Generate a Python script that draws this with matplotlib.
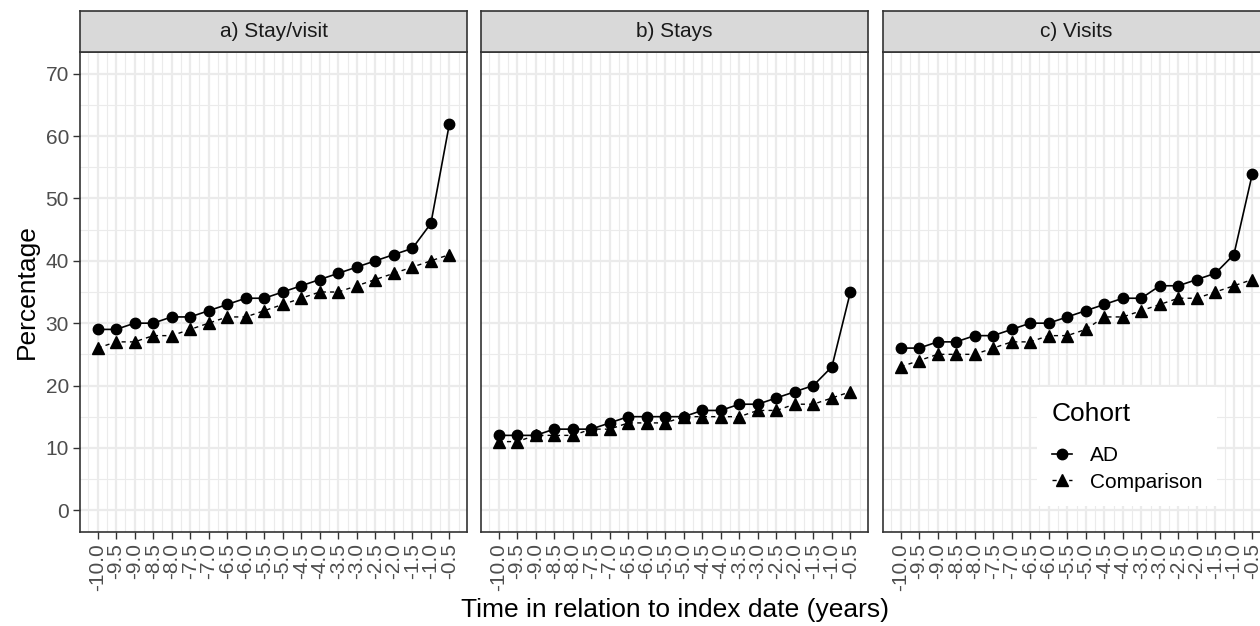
import numpy as np
import matplotlib
matplotlib.use('Agg')
import matplotlib.pyplot as plt
from matplotlib.ticker import MultipleLocator

plt.rcParams['font.family'] = ['Liberation Sans', 'DejaVu Sans']

# time relative to index date (years)
years = [-10.0, -9.5, -9.0, -8.5, -8.0, -7.5, -7.0, -6.5, -6.0, -5.5,
         -5.0, -4.5, -4.0, -3.5, -3.0, -2.5, -2.0, -1.5, -1.0, -0.5]

stay_visit_ad = [29, 29, 30, 30, 31, 31, 32, 33, 34, 34, 35, 36, 37, 38, 39, 40, 41, 42, 46, 62]
stay_visit_comp = [26, 27, 27, 28, 28, 29, 30, 31, 31, 32, 33, 34, 35, 35, 36, 37, 38, 39, 40, 41]
stays_ad = [12, 12, 12, 13, 13, 13, 14, 15, 15, 15, 15, 16, 16, 17, 17, 18, 19, 20, 23, 35]
stays_comp = [11, 11, 12, 12, 12, 13, 13, 14, 14, 14, 15, 15, 15, 15, 16, 16, 17, 17, 18, 19]
visits_ad = [26, 26, 27, 27, 28, 28, 29, 30, 30, 31, 32, 33, 34, 34, 36, 36, 37, 38, 41, 54]
visits_comp = [23, 24, 25, 25, 25, 26, 27, 27, 28, 28, 29, 31, 31, 32, 33, 34, 34, 35, 36, 37]

panel_titles = ['a) Stay/visit', 'b) Stays', 'c) Visits']
ad_series = [stay_visit_ad, stays_ad, visits_ad]
comp_series = [stay_visit_comp, stays_comp, visits_comp]

W, H = 1260, 626
fig = plt.figure(figsize=(W / 100, H / 100), dpi=100)

lefts = [80, 481, 883]
pw = 387
top, bottom = 52, 532

tick_col = '#4D4D4D'
border_col = '#333333'
grid_col = '#EBEBEB'

handles = None
for i in range(3):
    l = lefts[i]
    ax = fig.add_axes([l / W, 1 - bottom / H, pw / W, (bottom - top) / H])
    ax.set_xlim(-10.475, -0.025)
    ax.set_ylim(-3.5, 73.5)
    ax.set_xticks(years)
    ax.set_xticklabels(['%.1f' % y for y in years], rotation=90)
    ax.xaxis.set_minor_locator(MultipleLocator(0.25))
    ax.set_yticks(range(0, 71, 10))
    ax.yaxis.set_minor_locator(MultipleLocator(5))
    ax.grid(which='major', color=grid_col, lw=1.6, zorder=0)
    ax.grid(which='minor', color=grid_col, lw=0.8, zorder=0)
    ax.set_axisbelow(True)
    ax.tick_params(which='major', length=5, width=1.0, color=border_col,
                   labelsize=15, labelcolor=tick_col, pad=3)
    ax.tick_params(which='minor', length=0)
    if i > 0:
        ax.tick_params(axis='y', left=False, labelleft=False)
    for sp in ax.spines.values():
        sp.set_color(border_col)
        sp.set_linewidth(1.2)

    l1, = ax.plot(years, ad_series[i], color='black', lw=1.2, marker='o',
                  markersize=7.5, zorder=3)
    l2, = ax.plot(years, comp_series[i], color='black', lw=1.0,
                  linestyle=(0, (3, 3)), marker='^', markersize=8.5, zorder=3)
    if i == 2:
        handles = [l1, l2]

    # facet strip
    st = fig.add_axes([l / W, 1 - top / H, pw / W, 41 / H])
    st.set_facecolor('#D9D9D9')
    st.set_xticks([])
    st.set_yticks([])
    for sp in st.spines.values():
        sp.set_color(border_col)
        sp.set_linewidth(1.2)
    st.text(0.5, 0.5, panel_titles[i], ha='center', va='center',
            fontsize=15, color='#1A1A1A', transform=st.transAxes)

fig.text(27 / W, 1 - 292 / H, 'Percentage', rotation=90, ha='center',
         va='center', fontsize=19)
fig.text(675 / W, 1 - 610 / H, 'Time in relation to index date (years)',
         ha='center', va='center', fontsize=19)

leg = fig.legend(handles, ['AD', 'Comparison'], title='Cohort',
                 loc='upper left', bbox_to_anchor=(1037 / W, 1 - 387 / H),
                 borderaxespad=0, frameon=True, facecolor='white',
                 edgecolor='none', fancybox=False, framealpha=1,
                 alignment='left', fontsize=15, title_fontsize=19,
                 handlelength=1.0, handletextpad=0.85, labelspacing=0.35,
                 borderpad=0.7)
# extra gap between legend title and keys, as in ggplot
leg._legend_box.sep = 15

plt.savefig('out.png', dpi=100)
